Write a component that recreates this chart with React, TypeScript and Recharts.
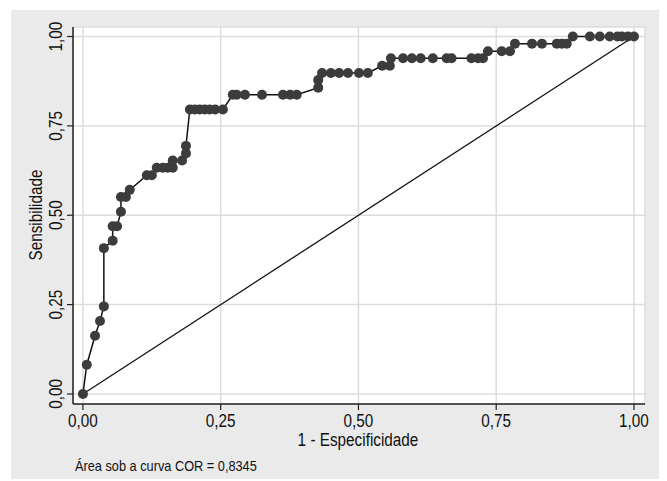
import { CartesianGrid, Line, LineChart, XAxis, YAxis } from "recharts";

// 1 - especificidade / sensibilidade
const fpr = [
  0, 0.007, 0.022, 0.031, 0.038, 0.038, 0.054, 0.054, 0.062, 0.069, 0.069, 0.078, 0.085,
  0.116, 0.125, 0.134, 0.145, 0.154, 0.163, 0.163, 0.18, 0.187, 0.187,
  0.194, 0.203, 0.212, 0.221, 0.23, 0.24, 0.254,
  0.272, 0.279, 0.294, 0.325, 0.363, 0.376, 0.388,
  0.427, 0.427, 0.434, 0.45, 0.465, 0.481, 0.501, 0.517,
  0.543, 0.557, 0.559, 0.581, 0.597, 0.613, 0.635, 0.66, 0.669, 0.705, 0.717, 0.726,
  0.735, 0.76, 0.775, 0.784, 0.815, 0.833, 0.86, 0.869, 0.878,
  0.889, 0.92, 0.938, 0.956, 0.97, 0.978, 0.989, 1,
];
const tpr = [
  0, 0.082, 0.163, 0.204, 0.245, 0.408, 0.429, 0.469, 0.469, 0.51, 0.551, 0.551, 0.571,
  0.612, 0.612, 0.633, 0.633, 0.633, 0.633, 0.653, 0.653, 0.673, 0.694,
  0.796, 0.796, 0.796, 0.796, 0.796, 0.796, 0.796,
  0.837, 0.837, 0.837, 0.837, 0.837, 0.837, 0.837,
  0.857, 0.878, 0.898, 0.898, 0.898, 0.898, 0.898, 0.898,
  0.918, 0.918, 0.939, 0.939, 0.939, 0.939, 0.939, 0.939, 0.939, 0.939, 0.939, 0.939,
  0.959, 0.959, 0.959, 0.98, 0.98, 0.98, 0.98, 0.98, 0.98,
  1, 1, 1, 1, 1, 1, 1, 1,
];
const refX = [0, 1];
const refY = [0, 1];
const ticks = [0, 0.25, 0.5, 0.75, 1];

const rocData = fpr.map((x, i) => ({ x, y: tpr[i] }));
const refData = refX.map((x, i) => ({ x, y: refY[i] }));

// no condensed Helvetica here, so squeeze Liberation Sans a bit
const FONT = "'Liberation Sans', Arial, sans-serif";
const SQUEEZE = 0.85;
const fmt = (v: number) => v.toFixed(2).replace(".", ",");

function XTick({ x, y, payload }: any) {
  return (
    <text
      transform={`translate(${x},${y + 9}) scale(${SQUEEZE},1)`}
      textAnchor="middle"
      dominantBaseline="central"
      fontSize={18}
      fontFamily={FONT}
      fill="#111"
    >
      {fmt(payload.value)}
    </text>
  );
}

function YTick({ x, y, payload }: any) {
  return (
    <text
      transform={`translate(${x - 9},${y}) rotate(-90) scale(${SQUEEZE},1)`}
      textAnchor="middle"
      dominantBaseline="central"
      fontSize={18}
      fontFamily={FONT}
      fill="#111"
    >
      {fmt(payload.value)}
    </text>
  );
}

export default function App() {
  return (
    <div
      style={{
        position: "relative",
        left: 3,
        top: 2,
        width: 650,
        height: 471,
        background: "#eaeaea",
        fontFamily: FONT,
        color: "#111",
      }}
    >
      <LineChart width={650} height={471} margin={{ top: 17, right: 16, bottom: 47, left: 0 }}>
        <CartesianGrid fill="#fff" stroke="#dcdcdc" strokeWidth={1.5} />
        <XAxis
          type="number"
          dataKey="x"
          domain={[-0.018, 1.02]}
          ticks={ticks}
          height={30}
          tick={<XTick />}
          tickSize={6}
          axisLine={{ stroke: "#222", strokeWidth: 1.5 }}
          tickLine={{ stroke: "#222", strokeWidth: 1.2 }}
        />
        <YAxis
          type="number"
          dataKey="y"
          domain={[-0.028, 1.0266]}
          ticks={ticks}
          width={62}
          tick={<YTick />}
          tickSize={6}
          axisLine={{ stroke: "#222", strokeWidth: 1.5 }}
          tickLine={{ stroke: "#222", strokeWidth: 1.2 }}
        />
        <Line
          data={rocData}
          dataKey="y"
          type="linear"
          stroke="#111"
          strokeWidth={1.5}
          dot={{ r: 5, fill: "#3c3c3c", stroke: "none" }}
          isAnimationActive={false}
        />
        <Line
          data={refData}
          dataKey="y"
          type="linear"
          stroke="#111"
          strokeWidth={1.3}
          dot={false}
          isAnimationActive={false}
        />
      </LineChart>
      <div
        style={{
          position: "absolute",
          left: 347,
          top: 430,
          transform: `translate(-50%, -50%) scaleX(${SQUEEZE})`,
          fontSize: 18,
          whiteSpace: "nowrap",
        }}
      >
        1 - Especificidade
      </div>
      <div
        style={{
          position: "absolute",
          left: 25,
          top: 205,
          transform: `translate(-50%, -50%) rotate(-90deg) scaleX(${SQUEEZE})`,
          fontSize: 18,
          whiteSpace: "nowrap",
        }}
      >
        Sensibilidade
      </div>
      <div
        style={{
          position: "absolute",
          left: 64,
          top: 455,
          transform: `translateY(-50%) scaleX(${SQUEEZE})`,
          transformOrigin: "left center",
          fontSize: 15,
          whiteSpace: "nowrap",
        }}
      >
        Área sob a curva COR = 0,8345
      </div>
    </div>
  );
}
